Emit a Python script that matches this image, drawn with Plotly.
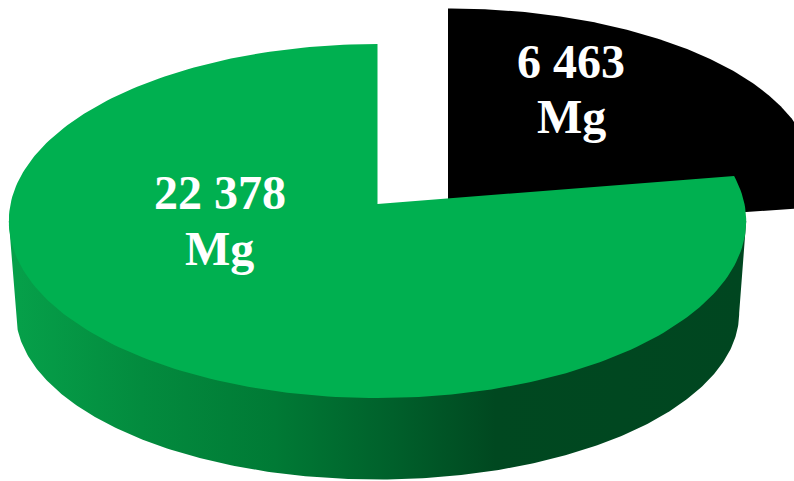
import numpy as np
import plotly.graph_objects as go

# Data
slice_names = ["Green share", "Black share"]
slice_values = [22378, 6463]
slice_labels = ["22 378", "6 463"]
unit_label = "Mg"
slice_colors = ["#00B050", "#000000"]

# Projection settings of the 3D pie: apex x, apex y, radius x, radius y, perspective
GREEN_TOP = (377.5, 204, 367, 175.4, 0.096)
GREEN_WALL_TOP = (377.5, 204, 364, 171, 0.096)
GREEN_BOTTOM = (377.5, 297, 360, 165, 0.096)
BLACK_TOP = (448, 233, 342, 146, -0.35)
WALL_GRADIENT = [
    [0.00, "#06A14A"], [0.18, "#038B3E"], [0.36, "#007A35"], [0.52, "#00602B"],
    [0.66, "#004820"], [1.00, "#004620"],
]

total = sum(slice_values)
black_sweep = 2 * np.pi * slice_values[1] / total


def project(theta, p):
    cx, cy, rx, ry, k = p
    X, Y = np.sin(theta), np.cos(theta)
    d = 1 + k * Y
    return cx + rx * X / d, cy - ry * Y / d


def wedge(start, stop, p):
    t = np.linspace(start, stop, 240)
    x, y = project(t, p)
    return np.r_[p[0], x, p[0]], np.r_[p[1], y, p[1]]


fig = go.Figure()

# black slice (lies behind the green one)
bx, by = wedge(0, black_sweep, BLACK_TOP)
fig.add_trace(go.Scatter(x=bx, y=by, mode="lines", fill="toself", fillcolor=slice_colors[1],
                         line=dict(width=0), name=slice_names[1], hoverinfo="name"))

# side wall of the green slice (its upper edge is tucked under the top face)
ext = np.arcsin(GREEN_TOP[4])
t = np.linspace(np.pi / 2 + ext, 3 * np.pi / 2 - ext, 300)
x0, y0 = project(t, GREEN_TOP)
x1, y1 = project(t, GREEN_WALL_TOP)
x2, y2 = project(t[::-1], GREEN_BOTTOM)
fig.add_trace(go.Scatter(x=np.r_[x0[0], x1, x0[-1], x2, x0[0]], y=np.r_[y0[0], y1, y0[-1], y2, y0[0]],
                         mode="lines", fill="toself",
                         fillgradient=dict(type="horizontal", colorscale=WALL_GRADIENT),
                         line=dict(width=0), hoverinfo="skip", showlegend=False))

# green slice top
gx, gy = wedge(black_sweep, 2 * np.pi, GREEN_TOP)
fig.add_trace(go.Scatter(x=gx, y=gy, mode="lines", fill="toself", fillcolor=slice_colors[0],
                         line=dict(width=0), name=slice_names[0], hoverinfo="name"))

# labels
for (lx, ly1, ly2), lab in zip([(219.5, 192, 248), (571, 61, 116)], slice_labels):
    for yy, tx in ((ly1, lab), (ly2, unit_label)):
        fig.add_annotation(x=lx, y=yy, text=f"<b>{tx}</b>", showarrow=False, xanchor="center", yanchor="middle",
                           font=dict(family="Liberation Serif", size=48, color="#FFFFFF"))

fig.update_layout(width=794, height=481, margin=dict(l=0, r=0, t=0, b=0), showlegend=False,
                  paper_bgcolor="#FFFFFF", plot_bgcolor="#FFFFFF",
                  xaxis=dict(range=[0, 794], visible=False, fixedrange=True),
                  yaxis=dict(range=[481, 0], visible=False, fixedrange=True))

fig.write_html("out.html", config=dict(displayModeBar=False),
               post_script="document.body.style.margin='0';document.body.style.overflow='hidden';")
